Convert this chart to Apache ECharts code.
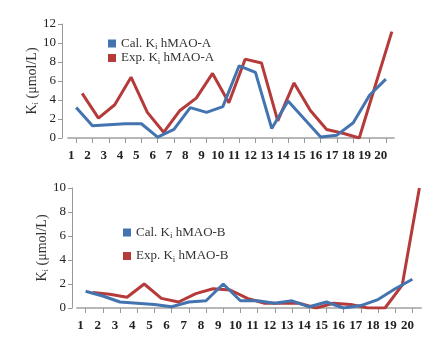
<!DOCTYPE html>
<html><head><meta charset="utf-8">
<script src="https://cdn.jsdelivr.net/npm/echarts@6/dist/echarts.min.js"></script>
<style>html,body{margin:0;padding:0;background:#fff}#c{width:448px;height:348px}</style>
</head><body><div id="c"></div>
<script>
const categories = ['1','2','3','4','5','6','7','8','9','10','11','12','13','14','15','16','17','18','19','20'];
const calA = [3.2,1.3,1.4,1.5,1.5,0.1,0.9,3.2,2.7,3.3,7.6,6.9,1.0,3.9,2.0,0.1,0.3,1.6,4.5,6.2];
const expA = [4.7,2.1,3.5,6.4,2.7,0.6,2.9,4.2,6.8,3.7,8.3,7.9,1.8,5.8,2.9,0.9,0.5,0.0,5.6,11.2];
const calB = [1.4,1.0,0.5,0.4,0.3,0.1,0.5,0.6,2.0,0.6,0.6,0.4,0.6,0.1,0.5,0.0,0.2,0.7,1.6,2.4];
const expB = [1.3,1.15,0.9,2.0,0.8,0.5,1.2,1.6,1.5,0.8,0.4,0.4,0.4,0.0,0.4,0.3,0.0,0.0,1.9,10.0];
const yTicksA = {min:0, max:12, interval:2};
const yTicksB = {min:0, max:10, interval:2};
const names = ['Cal. Ki hMAO-A','Exp. Ki hMAO-A','Cal. Ki hMAO-B','Exp. Ki hMAO-B'];

const BLUE = '#4374b0', RED = '#b53a3a';
const FONT = '"Liberation Serif", "DejaVu Serif", serif';
const sub = {s:{fontSize:9, fontFamily:FONT, color:'#333', padding:[7,0,0,0]}};
const fmt = n => n.replace(' Ki ', ' K{s|i} ');

function xAxis(gi, show){
  return {type:'category', gridIndex:gi, data:categories, boundaryGap:true, show:show,
    axisLine:{lineStyle:{color:'#b8b8b8', width:2}},
    axisTick:{show:true, alignWithLabel:true, length:5, lineStyle:{color:'#999'}},
    axisLabel:{fontFamily:FONT, fontSize:13, fontWeight:'bold', color:'#222', margin:11, interval:0, padding:[0,10,0,0]}};
}
function yAxis(gi, t, show, off, gap){
  return {type:'value', gridIndex:gi, min:t.min, max:t.max, interval:t.interval, show:show, offset:off,
    splitLine:{show:false},
    axisLine:{show:true, lineStyle:{color:'#999'}},
    axisTick:{show:true, length:4, lineStyle:{color:'#999'}},
    axisLabel:{fontFamily:FONT, fontSize:13, color:'#222', margin:6},
    name:'K{s|i} (μmol/L)', nameLocation:'middle', nameGap:gap, nameRotate:90, nameMoveOverlap:false,
    nameTextStyle:{fontFamily:FONT, fontSize:14, color:'#333', rich:sub}};
}
const chart = echarts.init(document.getElementById('c'));
chart.setOption({
  animation:false,
  grid:[
    {left:68, top:24, width:326, height:114},
    {left:74, top:24, width:326, height:114},
    {left:77, top:188, width:344, height:120},
    {left:84, top:188, width:344, height:120}
  ],
  xAxis:[xAxis(0,true), xAxis(1,false), xAxis(2,true), xAxis(3,false)],
  yAxis:[yAxis(0,yTicksA,true,6,22), yAxis(1,yTicksA,false,0,22), yAxis(2,yTicksB,true,5,22), yAxis(3,yTicksB,false,0,22)],
  legend:[
    {data:[names[0],names[1]], orient:'vertical', left:103, top:32, itemGap:0, itemWidth:8, itemHeight:8, icon:'rect',
     formatter:fmt, textStyle:{fontFamily:FONT, fontSize:13, color:'#333', rich:sub}},
    {data:[names[2],names[3]], orient:'vertical', left:118, top:221, itemGap:9, itemWidth:8, itemHeight:8, icon:'rect',
     formatter:fmt, textStyle:{fontFamily:FONT, fontSize:13, color:'#333', rich:sub}}
  ],
  series:[
    {name:names[1], type:'line', xAxisIndex:1, yAxisIndex:1, data:expA, symbol:'none', color:RED, lineStyle:{width:3, color:RED}},
    {name:names[0], type:'line', xAxisIndex:0, yAxisIndex:0, data:calA, symbol:'none', color:BLUE, lineStyle:{width:3, color:BLUE}},
    {name:names[3], type:'line', xAxisIndex:3, yAxisIndex:3, data:expB, symbol:'none', color:RED, lineStyle:{width:3, color:RED}},
    {name:names[2], type:'line', xAxisIndex:2, yAxisIndex:2, data:calB, symbol:'none', color:BLUE, lineStyle:{width:3, color:BLUE}}
  ]
});
</script></body></html>
